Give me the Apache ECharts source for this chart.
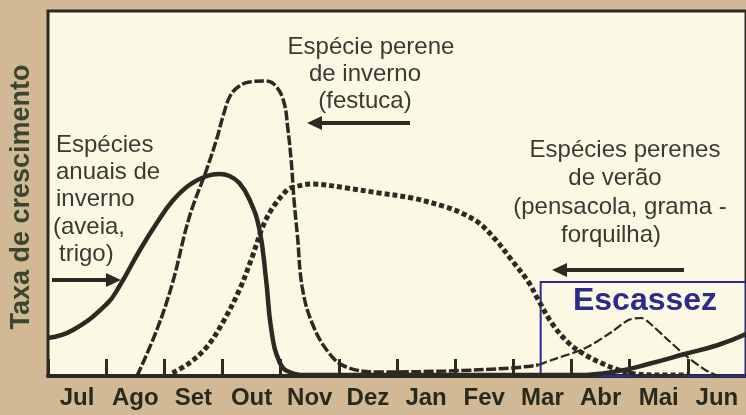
<!DOCTYPE html>
<html>
<head>
<meta charset="utf-8">
<script src="https://cdn.jsdelivr.net/npm/echarts@6/dist/echarts.min.js"></script>
<style>
  html, body { margin: 0; padding: 0; background: #d0b994; }
  #chart { width: 746px; height: 415px; }
</style>
</head>
<body>
<div id="chart"></div>
<script>
// Month categories (x axis)
var months = ['Jul', 'Ago', 'Set', 'Out', 'Nov', 'Dez', 'Jan', 'Fev', 'Mar', 'Abr', 'Mai', 'Jun'];

// Annual winter species (solid) — x in months from start of Jul, y = relative growth rate
var annualX = [0, 0.43, 1.01, 1.23, 1.58, 1.87, 2.14, 2.43, 2.73, 2.95, 3.12, 3.29, 3.46, 3.63, 3.75, 3.84, 3.98, 4.15, 4.49, 6.5, 9.12, 9.81, 10.32, 10.95, 11.52, 12];
var annualY = [38, 46, 72, 90, 126, 153, 175, 191, 200, 202, 200, 193, 177, 148, 96, 46, 14, 4, 1, 1, 1, 5, 12, 22, 31, 42];

// Perennial winter species, festuca (dashed)
var festucaX = [1.53, 1.87, 2.14, 2.43, 2.73, 2.90, 3.02, 3.14, 3.29, 3.46, 3.75, 3.93, 4.06, 4.12, 4.18, 4.23, 4.29, 4.37, 4.54, 4.83, 5.13, 5.69, 6.84, 7.97, 8.43];
var festucaY = [0, 46, 93, 159, 207, 237, 262, 281, 290, 294, 295, 289, 273, 249, 216, 176, 139, 89, 53, 23, 9, 4, 5, 8, 11];

// Perennial summer species (thin dashed)
var summerX = [8.43, 8.66, 9.24, 9.69, 9.98, 10.2, 10.32, 10.66, 10.95, 11.3, 11.52];
var summerY = [11, 16, 28, 44, 56, 58, 54, 36, 21, 6, 0];

// Dotted curve
var dottedX = [2.14, 2.43, 2.73, 3.0, 3.29, 3.51, 3.69, 3.86, 4.11, 4.23, 4.54, 5.13, 5.69, 6.26, 6.84, 7.11, 7.41, 7.70, 7.97, 8.26, 8.43, 8.66, 8.95, 9.24, 9.51, 9.81, 10.1, 10.5, 11.0];
var dottedY = [3, 13, 29, 53, 86, 119, 149, 168, 186, 189, 192, 188, 183, 178, 169, 163, 153, 136, 116, 94, 76, 53, 33, 21, 13, 6, 2, 1, 1];

// Scarcity period (Escassez): months range and height
var scarcityX = [8.47, 12];
var scarcityTop = 94;

function pairs(xs, ys) { return xs.map(function (x, i) { return [x, ys[i]]; }); }

var ink = '#2b2b24';
var txt = '#3a3a34';
var fontFam = '"Liberation Sans", Arial, sans-serif';

function arrow(x1, x2, y) {
  var dir = x2 > x1 ? 1 : -1;
  var tipX = x2;
  return [
    { type: 'line', shape: { x1: x1, y1: y, x2: x2 - dir * 10, y2: y }, style: { stroke: ink, lineWidth: 4 }, z: 10 },
    { type: 'polygon', shape: { points: [[tipX, y], [tipX - dir * 15, y - 7], [tipX - dir * 15, y + 7]] }, style: { fill: ink }, z: 10 }
  ];
}

function label(text, x, y, align, opts) {
  opts = opts || {};
  return {
    type: 'text', x: x, y: y, z: 20,
    style: {
      text: text, fill: opts.fill || txt,
      font: (opts.weight || 'normal') + ' ' + (opts.size || 24) + 'px ' + fontFam,
      textAlign: align, textVerticalAlign: 'middle'
    }
  };
}

var graphics = []
  .concat(arrow(410, 307, 123))
  .concat(arrow(52, 121, 280))
  .concat(arrow(684, 552, 270))
  .concat([
    label('Espécie perene', 371, 47, 'center'),
    label('de inverno', 365, 74, 'center'),
    label('(festuca)', 365, 101, 'center'),
    label('Espécies', 56, 145, 'left'),
    label('anuais de', 56, 172, 'left'),
    label('inverno', 56, 199, 'left'),
    label('(aveia,', 53, 227, 'left'),
    label('trigo)', 59, 254, 'left'),
    label('Espécies perenes', 625, 150, 'center'),
    label('de verão', 615, 178, 'center'),
    label('(pensacola, grama -', 620, 207, 'center'),
    label('forquilha)', 611, 235, 'center'),
    label('Escassez', 645, 301, 'center', { weight: 'bold', size: 32, fill: '#2e2a8c' }),
    {
      type: 'text', x: 22, y: 197, rotation: Math.PI / 2, z: 20,
      style: {
        text: 'Taxa de crescimento', fill: '#3a4630',
        font: 'bold 27px ' + fontFam, textAlign: 'center', textVerticalAlign: 'middle'
      }
    }
  ]);

var chart = echarts.init(document.getElementById('chart'));
chart.setOption({
  animation: false,
  backgroundColor: '#d0b994',
  grid: {
    left: 48, top: 11, width: 700, height: 365,
    show: true, backgroundColor: '#fbf9e4', borderColor: ink, borderWidth: 3
  },
  xAxis: [
    {
      type: 'category', data: months, boundaryGap: true, position: 'bottom',
      axisLine: { show: true, lineStyle: { color: ink, width: 4 } },
      axisTick: { show: true, inside: true, length: 17, interval: 0, lineStyle: { color: ink, width: 3 } },
      axisLabel: { interval: 0, margin: 10, color: '#2a2a1c', fontWeight: 'bold', fontSize: 24, fontFamily: fontFam },
      splitLine: { show: false }
    },
    {
      type: 'value', min: 0, max: 12, show: false, splitLine: { show: false }
    }
  ],
  yAxis: {
    type: 'value', min: 0, max: 365, show: false, splitLine: { show: false }
  },
  series: [
    {
      name: 'dotted', type: 'line', xAxisIndex: 1, data: pairs(dottedX, dottedY),
      smooth: 0.35, symbol: 'none', z: 3,
      lineStyle: { color: ink, width: 5, type: [5, 3], cap: 'butt' }
    },
    {
      name: 'festuca', type: 'line', xAxisIndex: 1, data: pairs(festucaX, festucaY),
      smooth: 0.4, symbol: 'none', z: 4,
      lineStyle: { color: ink, width: 3.5, type: [10, 2.5], cap: 'butt' }
    },
    {
      name: 'summer', type: 'line', xAxisIndex: 1, data: pairs(summerX, summerY),
      smooth: 0.3, symbol: 'none', z: 4,
      lineStyle: { color: ink, width: 2.2, type: [9, 3], cap: 'butt' },
      markArea: {
        silent: true,
        itemStyle: { color: 'rgba(0,0,0,0)', borderColor: '#2a2a9a', borderWidth: 2 },
        data: [[{ xAxis: scarcityX[0], yAxis: 0 }, { xAxis: scarcityX[1], yAxis: scarcityTop }]]
      }
    },
    {
      name: 'annual', type: 'line', xAxisIndex: 1, data: pairs(annualX, annualY),
      smooth: 0.45, symbol: 'none', z: 5,
      lineStyle: { color: ink, width: 4.5 }
    }
  ],
  graphic: graphics
});
</script>
</body>
</html>
